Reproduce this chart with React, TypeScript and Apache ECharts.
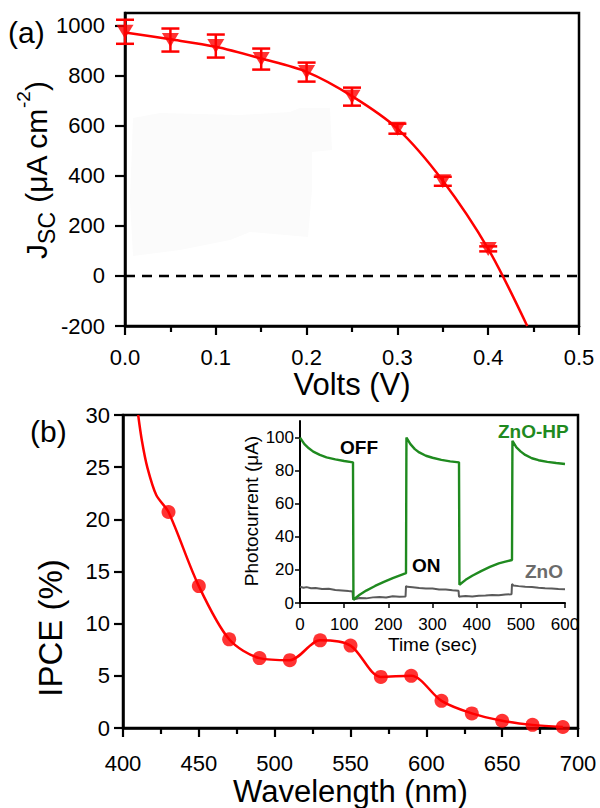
import React, { useEffect, useRef } from 'react';
import * as echarts from 'echarts';

const FONT = 'Liberation Sans, Arial, Helvetica, sans-serif';
const RED = '#ff0000';
const GREEN = '#1f8a1f';
const GRAY = '#5a5a5a';

// ---------- Panel (a): Jsc vs voltage ----------
const voltage = [0, 0.05, 0.1, 0.15, 0.2, 0.25, 0.3, 0.35, 0.4];
const jsc = [975, 942, 918, 866, 814, 716, 588, 378, 108];
const jscErr = [48, 46, 46, 42, 38, 36, 20, 18, 10];
const fitVoltage = [0, 0.05, 0.1, 0.15, 0.2, 0.25, 0.3, 0.35, 0.4, 0.443];
const fitJsc = [972, 945, 915, 868, 815, 718, 588, 380, 108, -200];
const jscTicks = [-200, 0, 200, 400, 600, 800, 1000];
const zeroLineX = [0, 0.5];

// ---------- Panel (b): IPCE vs wavelength ----------
const wavelength = [430, 450, 470, 490, 510, 530, 550, 570, 590, 610, 630, 650, 670, 690];
const ipce = [20.7, 13.6, 8.5, 6.7, 6.5, 8.4, 7.9, 4.9, 5.0, 2.6, 1.4, 0.7, 0.3, 0.1];
const ipceLeadWl = [410, 412.5, 416, 422];
const ipceLeadVal = [30, 27.5, 25, 22.3];

// ---------- Inset: photocurrent vs time ----------
const hpTime = [0, 10, 20, 30, 45, 60, 80, 100, 120, 121, 135, 150, 170, 190, 210, 225, 240, 241, 250, 260, 270, 285, 300, 320, 340, 360, 361, 375, 390, 410, 430, 450, 465, 480, 481, 490, 500, 510, 525, 540, 560, 580, 600];
const hpVal = [100, 96, 93.5, 91.5, 89.5, 88, 86.8, 85.8, 85, 2, 5, 7.5, 10.3, 12.8, 15, 16.5, 18, 100, 96, 93, 91, 89, 87.8, 86.5, 85.6, 85, 11, 14, 16.5, 19.3, 21.8, 24, 25, 26, 98, 94, 91.5, 89.5, 87.5, 86.3, 85.3, 84.6, 84];
const znTime = [0, 8, 15, 25, 35, 50, 65, 80, 95, 110, 119, 120, 123, 135, 150, 165, 180, 195, 210, 225, 239, 240, 243, 255, 270, 285, 300, 315, 330, 345, 359, 360, 363, 375, 390, 405, 420, 435, 450, 465, 479, 480, 483, 495, 510, 525, 540, 555, 570, 585, 600];
const znVal = [9.8, 9.2, 9.6, 8.9, 9.1, 8.4, 8.6, 7.9, 7.6, 7.2, 7.0, 2.5, 2.3, 3.0, 2.8, 3.4, 3.6, 3.3, 4.1, 3.8, 3.9, 10.2, 9.8, 9.5, 9.1, 8.8, 8.7, 8.2, 8.1, 7.7, 7.4, 3.8, 3.9, 4.2, 4.0, 4.4, 4.5, 4.8, 4.7, 5.1, 5.3, 11.5, 10.6, 10.2, 9.8, 9.6, 9.2, 8.9, 8.8, 8.5, 8.3];
const insetTicks = [0, 20, 40, 60, 80, 100];

const zip = (a: number[], b: number[]) => a.map((v, i) => [v, b[i]]);
const plain = (v: number) => String(v);

export default function App() {
  const ref = useRef<HTMLDivElement>(null);
  useEffect(() => {
    document.body.style.margin = '0';
    if (!ref.current) return;
    const chart = echarts.init(ref.current, null, { renderer: 'svg' });

    const mainLabel = { color: '#000', fontSize: 22, fontFamily: FONT };
    const axisLine = { onZero: false, lineStyle: { color: '#000', width: 2.5 } };
    const tick = (len: number) => ({ show: true, inside: false, length: len, lineStyle: { color: '#000', width: 2.2 } });

    const option: any = {
      animation: false,
      backgroundColor: '#fff',
      textStyle: { fontFamily: FONT },
      grid: [
        { left: 125, top: 13, width: 454, height: 313, show: true, borderColor: '#000', borderWidth: 2.5, backgroundColor: 'transparent' },
        { left: 123, top: 415, width: 455, height: 313, show: true, borderColor: '#000', borderWidth: 2.5, backgroundColor: 'transparent' },
        { left: 300, top: 421, width: 265, height: 182 },
      ],
      xAxis: [
        {
          type: 'value', gridIndex: 0, min: 0, max: 0.5, interval: 0.1,
          axisLine, axisTick: tick(9),
          minorTick: { show: true, splitNumber: 2, length: 6, lineStyle: { color: '#000', width: 2.2 } },
          axisLabel: { ...mainLabel, margin: 20, formatter: (v: number) => v.toFixed(1) },
          splitLine: { show: false },
          name: 'Volts (V)', nameLocation: 'middle', nameGap: 40,
          nameTextStyle: { color: '#000', fontSize: 31, fontFamily: FONT },
        },
        {
          type: 'value', gridIndex: 1, min: 400, max: 700, interval: 50,
          axisLine, axisTick: tick(9),
          minorTick: { show: true, splitNumber: 2, length: 6, lineStyle: { color: '#000', width: 2.2 } },
          axisLabel: { ...mainLabel, margin: 24, formatter: plain },
          splitLine: { show: false },
          name: 'Wavelength (nm)', nameLocation: 'middle', nameGap: 48,
          nameTextStyle: { color: '#000', fontSize: 31, fontFamily: FONT },
        },
        {
          type: 'value', gridIndex: 2, min: 0, max: 600, interval: 100,
          axisLine: { onZero: false, lineStyle: { color: '#000', width: 2 } },
          axisTick: { show: true, length: 5, lineStyle: { color: '#000', width: 1.5 } },
          axisLabel: { color: '#000', fontSize: 17, fontFamily: FONT, margin: 13, formatter: plain },
          splitLine: { show: false },
          name: 'Time (sec)', nameLocation: 'middle', nameGap: 32,
          nameTextStyle: { color: '#000', fontSize: 19, fontFamily: FONT },
        },
      ],
      yAxis: [
        {
          type: 'value', gridIndex: 0, min: -200, max: 1050,
          axisLine,
          axisTick: { ...tick(10), customValues: jscTicks },
          axisLabel: { ...mainLabel, margin: 20, customValues: jscTicks, formatter: plain },
          splitLine: { show: false },
        },
        {
          type: 'value', gridIndex: 1, min: 0, max: 30, interval: 5,
          axisLine, axisTick: tick(9),
          axisLabel: { ...mainLabel, margin: 13, formatter: plain },
          splitLine: { show: false },
        },
        {
          type: 'value', gridIndex: 2, min: 0, max: 110,
          axisLine: { onZero: false, lineStyle: { color: '#000', width: 2 } },
          axisTick: { show: true, length: 5, lineStyle: { color: '#000', width: 1.5 }, customValues: insetTicks },
          axisLabel: { color: '#000', fontSize: 17, fontFamily: FONT, margin: 6, customValues: insetTicks, formatter: plain },
          splitLine: { show: false },
        },
      ],
      series: [
        {
          name: 'zero', type: 'line', xAxisIndex: 0, yAxisIndex: 0,
          data: zeroLineX.map((x) => [x, 0]), symbol: 'none',
          lineStyle: { color: '#000', width: 2.5, type: [10, 7] }, z: 1,
        },
        {
          name: 'fit', type: 'line', xAxisIndex: 0, yAxisIndex: 0,
          data: zip(fitVoltage, fitJsc), smooth: 0.3, symbol: 'none',
          lineStyle: { color: RED, width: 2.5 }, z: 2,
        },
        {
          name: 'err', type: 'custom', xAxisIndex: 0, yAxisIndex: 0,
          data: voltage.map((v, i) => [v, jsc[i] - jscErr[i], jsc[i] + jscErr[i]]),
          encode: { x: 0, y: [1, 2] },
          renderItem: (params: any, api: any) => {
            const x = api.value(0);
            const lo = api.coord([x, api.value(1)]);
            const hi = api.coord([x, api.value(2)]);
            const hw = 9;
            const st = { stroke: RED, lineWidth: 2.5 };
            return {
              type: 'group',
              children: [
                { type: 'line', shape: { x1: lo[0], y1: lo[1], x2: hi[0], y2: hi[1] }, style: st },
                { type: 'line', shape: { x1: lo[0] - hw, y1: lo[1], x2: lo[0] + hw, y2: lo[1] }, style: st },
                { type: 'line', shape: { x1: hi[0] - hw, y1: hi[1], x2: hi[0] + hw, y2: hi[1] }, style: st },
              ],
            };
          },
          z: 3,
        },
        {
          name: 'jsc', type: 'scatter', xAxisIndex: 0, yAxisIndex: 0,
          data: zip(voltage, jsc), symbol: 'triangle', symbolRotate: 180, symbolSize: [17, 14],
          itemStyle: { color: RED }, z: 4,
        },
        {
          name: 'ipceFit', type: 'line', xAxisIndex: 1, yAxisIndex: 1,
          data: zip(ipceLeadWl.concat(wavelength), ipceLeadVal.concat(ipce)), smooth: 0.3, symbol: 'none',
          lineStyle: { color: RED, width: 2.5 }, z: 2,
        },
        {
          name: 'ipce', type: 'scatter', xAxisIndex: 1, yAxisIndex: 1,
          data: zip(wavelength, ipce), symbol: 'circle', symbolSize: 14,
          itemStyle: { color: RED }, z: 4,
        },
        {
          name: 'ZnO', type: 'line', xAxisIndex: 2, yAxisIndex: 2,
          data: zip(znTime, znVal), symbol: 'none',
          lineStyle: { color: GRAY, width: 2 }, z: 5,
        },
        {
          name: 'ZnO-HP', type: 'line', xAxisIndex: 2, yAxisIndex: 2,
          data: zip(hpTime, hpVal), symbol: 'none',
          lineStyle: { color: GREEN, width: 2.4 }, z: 6,
        },
      ],
      graphic: [
        {
          type: 'polygon', z: 0, silent: true,
          shape: { points: [[133, 118], [160, 113], [240, 115], [290, 112], [300, 108], [330, 108], [332, 150], [312, 152], [312, 190], [308, 237], [250, 232], [230, 240], [180, 250], [133, 256], [130, 200]] },
          style: { fill: '#fbfbfb' },
        },
        { type: 'text', x: 8, y: 32, style: { text: '(a)', fontSize: 30, fontFamily: FONT, fill: '#000', align: 'left', verticalAlign: 'middle' } },
        { type: 'text', x: 30, y: 431, style: { text: '(b)', fontSize: 30, fontFamily: FONT, fill: '#000', align: 'left', verticalAlign: 'middle' } },
        {
          type: 'text', x: 36, y: 170, rotation: Math.PI / 2,
          style: {
            text: '{m|J}{s|SC}{m| (μA cm}{p|-2}{m|)}',
            align: 'center', verticalAlign: 'middle', fill: '#000',
            rich: {
              m: { fontSize: 30, fontFamily: FONT, lineHeight: 44, fill: '#000' },
              s: { fontSize: 23, fontFamily: FONT, lineHeight: 23, verticalAlign: 'bottom', fill: '#000' },
              p: { fontSize: 19, fontFamily: FONT, lineHeight: 19, verticalAlign: 'top', fill: '#000' },
            },
          },
        },
        {
          type: 'text', x: 50, y: 628, rotation: Math.PI / 2,
          style: { text: 'IPCE (%)', fontSize: 33, fontFamily: FONT, fill: '#000', align: 'center', verticalAlign: 'middle' },
        },
        {
          type: 'text', x: 251, y: 511, rotation: Math.PI / 2,
          style: { text: 'Photocurrent (μA)', fontSize: 19, fontFamily: FONT, fill: '#000', align: 'center', verticalAlign: 'middle' },
        },
        { type: 'text', x: 340, y: 447, style: { text: 'OFF', fontSize: 19, fontWeight: 'bold', fontFamily: FONT, fill: '#000', verticalAlign: 'middle' } },
        { type: 'text', x: 412, y: 565, style: { text: 'ON', fontSize: 19, fontWeight: 'bold', fontFamily: FONT, fill: '#000', verticalAlign: 'middle' } },
        { type: 'text', x: 498, y: 431, style: { text: 'ZnO-HP', fontSize: 19, fontWeight: 'bold', fontFamily: FONT, fill: GREEN, verticalAlign: 'middle' } },
        { type: 'text', x: 525, y: 571, style: { text: 'ZnO', fontSize: 19, fontWeight: 'bold', fontFamily: FONT, fill: '#6b6b6b', verticalAlign: 'middle' } },
      ],
    };
    chart.setOption(option);
    return () => chart.dispose();
  }, []);
  return <div ref={ref} style={{ width: 600, height: 808 }} />;
}
